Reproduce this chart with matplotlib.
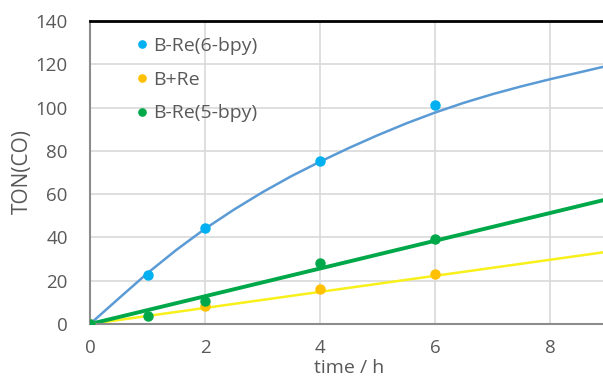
import numpy as np
import matplotlib.pyplot as plt

plt.rcParams['font.family'] = ['Open Sans', 'DejaVu Sans']

# measured points
t_6bpy = [0, 1, 2, 4, 6]
ton_6bpy = [0, 22.5, 44.2, 75.2, 101.3]
t_mix = [0, 2, 4, 6]
ton_mix = [0, 8.4, 16.4, 23.3]
t_5bpy = [0, 1, 2, 4, 6]
ton_5bpy = [0, 3.6, 10.4, 28.2, 39.5]

# trend lines
fit_6bpy_t = [0, 0.5, 1, 1.5, 2, 2.5, 3, 3.5, 4, 4.5,
              5, 5.5, 6, 6.5, 7, 7.5, 8, 8.5, 9]
fit_6bpy_y = [0, 11.8, 23.5, 34.2, 44, 52.8, 60.9, 68.3, 75, 81.3,
              87.2, 92.7, 97.7, 102.2, 106.2, 109.8, 113.1, 116.2, 119.3]
fit_mix_t = [0, 9]
fit_mix_y = [0, 33.4]
fit_5bpy_t = [0, 9]
fit_5bpy_y = [0, 57.7]

fig = plt.figure(figsize=(6.03, 3.78), dpi=100)
ax = fig.add_axes([90/603, 54/378, 513/603, 303/378])

ax.grid(True, color='#d9d9d9', linewidth=1.2)
ax.set_axisbelow(True)

ax.plot(fit_6bpy_t, fit_6bpy_y, color='#5b9bd5', linewidth=1.8, zorder=2)
ax.plot(fit_mix_t, fit_mix_y, color='#f7f01a', linewidth=1.8, zorder=2)
ax.plot(fit_5bpy_t, fit_5bpy_y, color='#00a84a', linewidth=2.8, zorder=2)

ax.plot(t_6bpy, ton_6bpy, 'o', color='#00b0f0', markersize=6.5, zorder=3,
        label='B-Re(6-bpy)')
ax.plot(t_mix, ton_mix, 'o', color='#ffc000', markersize=6.5, zorder=3,
        label='B+Re')
ax.plot(t_5bpy, ton_5bpy, 'o', color='#00a84a', markersize=6.5, zorder=4,
        label='B-Re(5-bpy)')

ax.set_xlim(0, 8.92)
ax.set_ylim(0, 140)
ax.set_xticks([0, 2, 4, 6, 8])
ax.set_yticks(np.arange(0, 141, 20))

for s in ['left', 'bottom']:
    ax.spines[s].set_color('#8c8c8c')
    ax.spines[s].set_linewidth(1.5)
ax.spines['right'].set_visible(False)
ax.spines['top'].set_color('black')
ax.spines['top'].set_linewidth(2)

ax.tick_params(length=0, labelsize=13.5, labelcolor='#595959')
ax.tick_params(axis='x', pad=11)
ax.tick_params(axis='y', pad=16)

fig.text(22/603, 1 - 172/378, 'TON(CO)', rotation=90, ha='center',
         va='center', fontsize=15, color='#595959')
fig.text(349/603, 1 - 368/378, 'time / h', ha='center', va='center',
         fontsize=14, color='#595959')

leg = ax.legend(loc='upper left', bbox_to_anchor=(0.075, 0.972), frameon=False,
                fontsize=14, handlelength=0.6, handletextpad=0.28,
                labelspacing=0.8, markerscale=0.8, borderaxespad=0)
for txt in leg.get_texts():
    txt.set_color('#595959')

fig.savefig('out.png', dpi=100)
